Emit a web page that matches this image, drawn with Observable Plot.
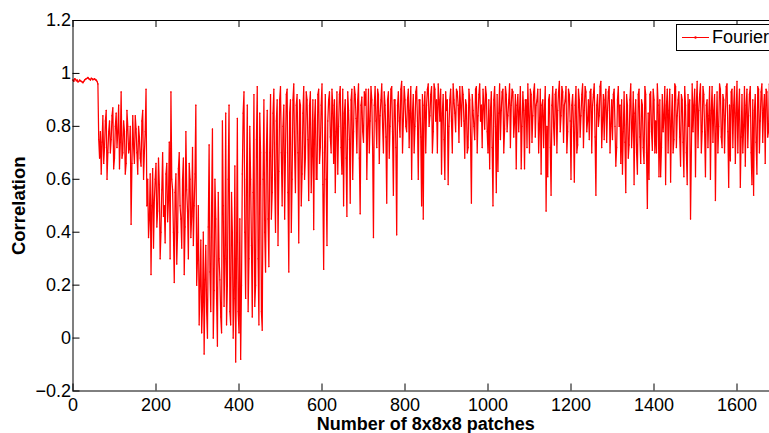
<!DOCTYPE html>
<html>
<head>
<meta charset="utf-8">
<script src="https://cdn.jsdelivr.net/npm/d3@7"></script>
<script src="https://cdn.jsdelivr.net/npm/@observablehq/plot@0.6"></script>
<style>
  html, body { margin: 0; padding: 0; background: #fff; overflow: hidden; }
  #wrap { position: relative; width: 769px; height: 433px; overflow: hidden; }
  #chart svg { max-width: none !important; }
  #legend { position: absolute; left: 676px; top: 24px; width: 97px; height: 25px;
    border: 1px solid #000; background: #fff; font-family: "Liberation Sans", Arial, sans-serif; }
  #legend svg { position: absolute; left: 0; top: 0; }
  #legend span { position: absolute; left: 35px; top: 1px; font-size: 18px; line-height: 22px; color: #000; }
</style>
</head>
<body>
<div id="wrap"><div id="chart"></div>
<div id="legend"><svg width="35" height="25"><line x1="5" y1="12.5" x2="32" y2="12.5" stroke="#ff0000" stroke-width="1"/><circle cx="18.5" cy="12.5" r="1.2" fill="#ff0000"/></svg><span>Fourier</span></div>
</div>
<script>
// Tick values
const xTicks = [0, 200, 400, 600, 800, 1000, 1200, 1400, 1600];
const yTicks = [-0.2, 0, 0.2, 0.4, 0.6, 0.8, 1, 1.2];
const seriesName = "Fourier";
const xLabel = "Number of 8x8x8 patches";
const yLabel = "Correlation";
const patchStep = 4;

// Correlation values, in segments:
// "a" at start, start+4, ...; "b" at start+2, start+6, ...
const seg0 = {start: 0,
  a: [0.975,0.98,0.972,0.968,0.975,0.97,0.965,0.975,0.98,0.985,0.978,0.982,0.976,0.98,0.975,0.96],
  b: [0.97,0.978,0.975,0.97,0.972,0.968,0.97,0.978,0.982,0.98,0.975,0.98,0.978,0.976,0.97,0.75]};
const seg1 = {start: 64,
  a: [0.68,0.62,0.84,0.72,0.86,0.7,0.82,0.75,0.87,0.68,0.85,0.78,0.64,0.93,0.7,0.78,0.66,0.8,0.72,0.43,0.84,0.66,0.79,0.62,0.76,0.65,0.86,0.7,0.94],
  b: [0.78,0.74,0.66,0.82,0.6,0.78,0.7,0.84,0.64,0.8,0.72,0.88,0.74,0.68,0.82,0.62,0.86,0.7,0.8,0.66,0.72,0.84,0.7,0.8,0.68,0.82,0.6,0.78,0.5]};
const seg2 = {start: 180,
  a: [0.6,0.45,0.24,0.64,0.52,0.66,0.48,0.58,0.4,0.7,0.5,0.62,0.44,0.74,0.93,0.56,0.21,0.62,0.4,0.7,0.45,0.6,0.24,0.78,0.48,0.66,0.38,0.72,0.5,0.88],
  b: [0.38,0.62,0.5,0.34,0.6,0.42,0.68,0.3,0.56,0.46,0.36,0.66,0.52,0.3,0.6,0.4,0.55,0.28,0.64,0.5,0.34,0.68,0.42,0.56,0.3,0.6,0.46,0.35,0.62,0.2]};
const seg3 = {start: 300,
  a: [0.3,0.05,0.37,0.12,-0.06,0.35,0.0,0.73,0.1,0.79,0.18,0.45,-0.03,0.3,0.08,0.82,0.12,0.85,0.2,0.88,0.05,0.4,0.15,-0.09,0.83,0.02,-0.08,0.62],
  b: [0.5,0.2,0.02,0.4,0.22,0.1,0.42,0.25,0.5,0.0,0.6,0.15,0.55,0.22,0.02,0.5,0.3,0.05,0.6,0.1,0.55,0.0,0.65,0.3,0.1,0.45,0.2,0.85]};
const seg4 = {start: 412,
  a: [0.93,0.15,0.88,0.3,0.6,0.08,0.92,0.2,0.95,0.05,0.7,0.03,0.9,0.25,0.86],
  b: [0.4,0.6,0.1,0.8,0.35,0.55,0.12,0.75,0.3,0.85,0.1,0.6,0.4,0.7,0.45]};
const seg5 = {start: 472,
  a: [0.27,0.92,0.55,0.94,0.4,0.9,0.63,0.95,0.5,0.88,0.7,0.94,0.25,0.9,0.6,0.96,0.55],
  b: [0.7,0.45,0.85,0.6,0.82,0.35,0.9,0.7,0.8,0.45,0.92,0.55,0.85,0.4,0.9,0.7,0.88]};
const seg6 = {start: 540,
  a: [0.92,0.36,0.88,0.62,0.95,0.68,0.9,0.52,0.93,0.7,0.41,0.9,0.6,0.94,0.72,0.96,0.26],
  b: [0.7,0.9,0.5,0.85,0.6,0.93,0.75,0.88,0.55,0.9,0.82,0.6,0.92,0.66,0.88,0.58,0.7]};
const seg7 = {start: 608,
  a: [0.92,0.35,0.9,0.76,0.94,0.66,0.55,0.93,0.8,0.95,0.62,0.5,0.9,0.46,0.86,0.51,0.94,0.78,0.92,0.7,0.96,0.47,0.91,0.74],
  b: [0.6,0.82,0.93,0.7,0.88,0.9,0.78,0.62,0.92,0.72,0.94,0.85,0.68,0.93,0.75,0.9,0.6,0.95,0.83,0.9,0.68,0.88,0.78,0.93]};
const seg8 = {start: 704,
  a: [0.88,0.6,0.94,0.82,0.9,0.38,0.95,0.72,0.92,0.84,0.96,0.7,0.88,0.51,0.93,0.8,0.95,0.54,0.9,0.39,0.93,0.76,0.97,0.82,0.9],
  b: [0.94,0.8,0.7,0.95,0.72,0.88,0.82,0.94,0.66,0.9,0.8,0.93,0.76,0.9,0.68,0.94,0.78,0.9,0.72,0.88,0.82,0.94,0.7,0.95,0.8]};
const seg9 = {start: 804,
  a: [0.78,0.94,0.86,0.6,0.92,0.8,0.95,0.6,0.9,0.5,0.45,0.93,0.88,0.96,0.84,0.95,0.78,0.94,0.9,0.96,0.82,0.62,0.92,0.6,0.86],
  b: [0.9,0.72,0.95,0.85,0.7,0.93,0.82,0.9,0.76,0.92,0.88,0.7,0.94,0.8,0.92,0.7,0.96,0.82,0.7,0.9,0.94,0.85,0.75,0.93,0.9]};
const seg10 = {start: 904,
  a: [0.58,0.9,0.82,0.96,0.85,0.94,0.88,0.95,0.8,0.92,0.68,0.88,0.72,0.9,0.51,0.86,0.75,0.95,0.84,0.96,0.88,0.94,0.79,0.92,0.7],
  b: [0.8,0.94,0.7,0.9,0.78,0.93,0.74,0.88,0.95,0.82,0.9,0.7,0.94,0.75,0.92,0.8,0.94,0.7,0.92,0.82,0.72,0.88,0.95,0.78,0.9]};
const seg11 = {start: 1004,
  a: [0.64,0.93,0.5,0.95,0.55,0.63,0.96,0.86,0.94,0.79,0.92,0.84,0.96,0.88,0.93,0.82,0.64,0.92,0.86,0.64,0.93,0.64,0.9,0.96,0.7],
  b: [0.86,0.72,0.9,0.8,0.92,0.85,0.75,0.93,0.7,0.95,0.78,0.9,0.72,0.94,0.76,0.92,0.88,0.78,0.95,0.8,0.86,0.9,0.72,0.84,0.94]};
const seg12 = {start: 1104,
  a: [0.92,0.84,0.96,0.88,0.94,0.8,0.62,0.9,0.86,0.48,0.61,0.92,0.54,0.95,0.73,0.94,0.86,0.97,0.84,0.93,0.88,0.95,0.78,0.92,0.6],
  b: [0.74,0.93,0.76,0.9,0.7,0.94,0.88,0.72,0.95,0.8,0.9,0.72,0.88,0.8,0.92,0.7,0.93,0.78,0.95,0.74,0.9,0.7,0.94,0.82,0.88]};
const seg13 = {start: 1204,
  a: [0.92,0.59,0.95,0.73,0.9,0.84,0.96,0.86,0.93,0.82,0.75,0.94,0.88,0.96,0.54,0.92,0.84,0.97,0.82,0.75,0.94,0.86,0.95,0.8,0.75],
  b: [0.8,0.88,0.7,0.94,0.76,0.92,0.72,0.95,0.78,0.9,0.93,0.7,0.92,0.76,0.88,0.8,0.95,0.72,0.92,0.9,0.74,0.93,0.7,0.9,0.92]};
const seg14 = {start: 1304,
  a: [0.94,0.65,0.9,0.8,0.66,0.62,0.93,0.55,0.88,0.73,0.96,0.8,0.58,0.9,0.62,0.94,0.66,0.88,0.66,0.92,0.49,0.6,0.93,0.71,0.9],
  b: [0.8,0.72,0.95,0.88,0.9,0.78,0.74,0.92,0.68,0.9,0.72,0.93,0.85,0.7,0.92,0.76,0.9,0.72,0.95,0.7,0.85,0.92,0.78,0.94,0.7]};
const seg15 = {start: 1404,
  a: [0.82,0.96,0.61,0.61,0.92,0.84,0.58,0.94,0.86,0.59,0.92,0.75,0.95,0.84,0.93,0.65,0.9,0.61,0.88,0.58,0.8,0.45,0.96,0.88,0.61],
  b: [0.7,0.88,0.9,0.72,0.78,0.95,0.88,0.7,0.94,0.82,0.7,0.96,0.72,0.9,0.76,0.92,0.74,0.95,0.7,0.92,0.9,0.7,0.78,0.94,0.88]};
const seg16 = {start: 1504,
  a: [0.97,0.86,0.96,0.78,0.92,0.61,0.9,0.84,0.6,0.95,0.86,0.52,0.93,0.8,0.94,0.72,0.9,0.84,0.96,0.57,0.67,0.94,0.88,0.66,0.97],
  b: [0.72,0.92,0.7,0.95,0.78,0.88,0.72,0.95,0.86,0.74,0.92,0.8,0.7,0.96,0.76,0.92,0.7,0.95,0.78,0.88,0.93,0.72,0.95,0.85,0.7]};
const seg17 = {start: 1604,
  a: [0.86,0.57,0.92,0.8,0.65,0.94,0.84,0.95,0.58,0.54,0.92,0.62,0.94,0.82,0.96,0.86,0.66,0.93,0.78,0.9,0.72,0.95,0.84,0.91],
  b: [0.94,0.76,0.7,0.95,0.88,0.72,0.92,0.7,0.9,0.86,0.74,0.95,0.7,0.93,0.74,0.92,0.94,0.76,0.96,0.7,0.9,0.78,0.94,0.8]};

const segments = [seg0,seg1,seg2,seg3,seg4,seg5,seg6,seg7,seg8,seg9,seg10,seg11,seg12,seg13,seg14,seg15,seg16,seg17];
const data = segments.flatMap(s => [
  ...s.a.map((v, i) => ({patch: s.start + i * patchStep, corr: v})),
  ...s.b.map((v, i) => ({patch: s.start + 2 + i * patchStep, corr: v}))
]).sort((p, q) => p.patch - q.patch);

const W = 800, H = 433, mL = 72.5, mR = 22, mT = 20, mB = 42.5;
const plotW = W - mL - mR, plotH = H - mT - mB;
const fontFam = "'Liberation Sans', Arial, Helvetica, sans-serif";

const chart = Plot.plot({
  width: W, height: H,
  marginLeft: mL, marginRight: mR, marginTop: mT, marginBottom: mB,
  style: {fontFamily: fontFam, fontSize: "18px", color: "#000", background: "#fff", overflow: "visible", maxWidth: "none"},
  x: {domain: [0, 1700]},
  y: {domain: [-0.2, 1.2]},
  marks: [
    Plot.line(data, {x: "patch", y: "corr", stroke: "#ff0000", strokeWidth: 1.25}),
    Plot.dot(data, {x: "patch", y: "corr", r: 0.7, fill: "#ff0000", stroke: null}),
    Plot.frame({stroke: "#000", strokeWidth: 1}),
    Plot.tickX(xTicks, {x: d => d, insetTop: plotH - 7, stroke: "#000"}),
    Plot.tickX(xTicks, {x: d => d, insetBottom: plotH - 7, stroke: "#000"}),
    Plot.tickY(yTicks, {y: d => d, insetRight: plotW - 7, stroke: "#000"}),
    Plot.tickY(yTicks, {y: d => d, insetLeft: plotW - 7, stroke: "#000"}),
    Plot.axisX(xTicks, {tickSize: 0, tickPadding: 7, label: null, fontSize: 18, tickFormat: d => String(d)}),
    Plot.axisY(yTicks, {tickSize: 0, tickPadding: 2, label: null, fontSize: 18,
      tickFormat: d => d3.format("~g")(d)}),
    Plot.text([xLabel], {frameAnchor: "bottom", dy: 39, lineAnchor: "bottom", textAnchor: "middle", text: d => d, fontWeight: "bold", fontSize: 18}),
    Plot.text([yLabel], {frameAnchor: "left", dx: -54, rotate: -90, textAnchor: "middle", lineAnchor: "middle", text: d => d, fontWeight: "bold", fontSize: 18.5})
  ]
});
document.getElementById("chart").appendChild(chart);
</script>
</body>
</html>
